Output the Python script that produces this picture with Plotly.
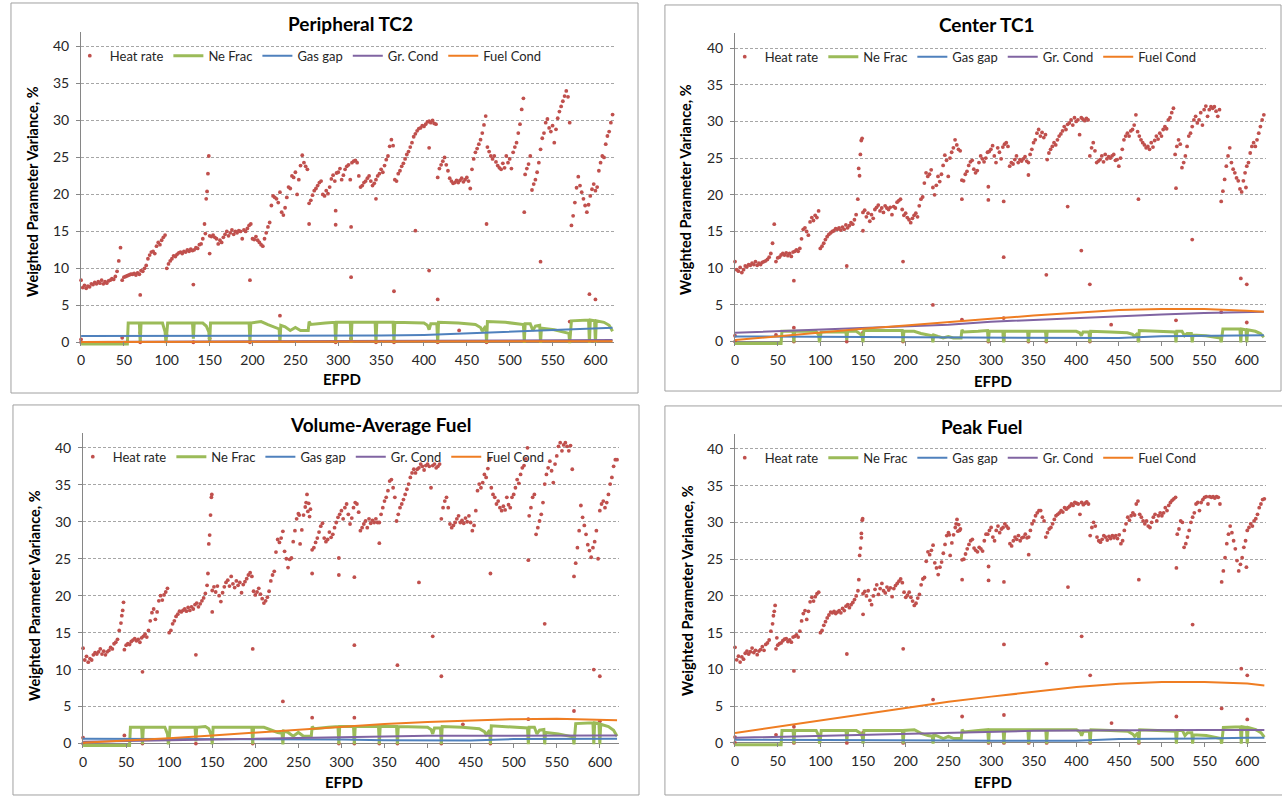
import plotly.graph_objects as go

W, H = 1282, 796
FONT = "Lato"
RED, GREEN, BLUE, PURPLE, ORANGE = "#C0504D", "#9BBB59", "#4F81BD", "#8064A2", "#EF7D22"

# ---------------- data ----------------
EFPD_STEP = 2  # heat-rate samples every 2 EFPD starting at 0

hr_tc2 = [
    8.4, 7.4, 7.7, 7.3, 7.6, 7.5, 7.9, 7.8, 8.1, 7.9,
    8.2, 8.0, 8.4, 7.9, 8.2, 8.0, 8.3, 8.4, 8.6, 8.5,
    8.9, 9.6, 11.0, 12.8, 8.4, 8.8, 8.9, 9.0, 9.1, 9.2,
    9.2, 9.3, 9.1, 9.4, 9.2, 9.7, 9.6, 10.0, 10.4, 11.3,
    11.8, 12.2, 12.3, 12.0, 13.0, 13.5, 13.2, 13.8, 14.2, 14.5,
    10.0, 10.6, 11.0, 11.3, 11.7, 11.6, 11.9, 12.1, 12.2, 12.0,
    12.3, 12.2, 12.5, 12.3, 12.6, 12.4, 12.5, 12.8, 12.7, 13.2,
    13.3, 14.0, 16.0, 19.4, 22.8, 14.4, 14.3, 14.5, 14.2, 14.0,
    13.3, 13.8, 13.5, 14.2, 14.6, 15.0, 14.4, 14.8, 15.2, 14.6,
    15.0, 14.8, 15.1, 15.0, 14.0, 15.2, 15.0, 15.4, 15.8, 16.0,
    14.0, 13.9, 14.3, 13.8, 13.5, 13.2, 13.0, 14.0, 14.8, 15.6,
    16.2, 18.5, 19.8, 19.6, 19.4, 18.9, 20.3, 17.6, 17.2, 18.2,
    19.6, 21.0, 20.8, 22.5, 22.3, 23.0, 20.0, 22.0, 23.9, 25.3,
    24.3, 23.8, 23.4, 18.8, 19.2, 19.9, 20.5, 20.8, 21.2, 21.6,
    21.8, 20.0, 19.8, 20.5, 20.1, 21.0, 22.1, 22.6, 21.8, 22.9,
    23.0, 23.5, 22.0, 22.6, 23.4, 23.8, 24.0, 22.0, 24.3, 24.5,
    24.6, 24.3, 22.5, 21.0, 21.2, 21.6, 21.8, 22.2, 22.5, 21.8,
    21.2, 21.5, 22.0, 22.5, 22.8, 23.4, 23.0, 23.9, 24.7, 25.2,
    26.5, 27.4, 26.6, 22.0, 21.8, 22.8, 23.2, 23.8, 24.2, 24.8,
    25.4, 25.8, 26.4, 27.0, 27.8, 28.2, 28.6, 28.9, 29.0, 29.3,
    29.2, 29.5, 29.8, 29.9, 29.7, 30.0, 29.6, 29.5, 22.3, 23.5,
    24.0, 24.5, 25.0, 24.0, 23.2, 22.2, 21.8, 21.5, 21.6, 21.9,
    21.6, 21.9, 22.2, 21.7, 22.0, 22.3, 21.8, 20.8, 23.4, 24.8,
    25.7, 26.2, 26.8, 27.4, 28.3, 29.4, 30.6, 26.4, 25.8, 25.2,
    24.8, 25.2, 24.4, 23.9, 23.6, 23.4, 24.2, 23.6, 25.2, 24.3,
    24.8, 23.5, 25.7, 26.4, 27.0, 28.3, 29.5, 31.5, 33.0, 22.7,
    23.5, 24.1, 25.2, 20.6, 21.4, 22.0, 23.0, 24.3, 26.1, 27.6,
    28.3, 29.7, 30.2, 29.0, 28.5, 29.3, 27.0, 28.8, 30.3, 31.2,
    31.9, 32.6, 33.3, 34.0, 33.2, 29.7, 15.8, 17.1, 18.9, 20.9,
    22.4, 21.2, 20.3, 19.4, 18.5, 17.6, 18.6, 19.8, 20.7, 21.4,
    20.5, 21.0, 23.2, 24.3, 25.2, 25.0, 26.8, 27.9, 28.5, 29.7, 30.8,
]
hr_tc1 = [
    10.9, 9.8, 9.6, 10.1, 9.4, 9.8, 10.3, 10.2, 10.5, 10.4,
    10.7, 10.5, 10.9, 10.4, 10.7, 10.5, 10.8, 10.9, 11.0, 11.2,
    11.5, 12.0, 13.4, 16.0, 10.9, 11.4, 11.5, 11.8, 12.0, 11.8,
    12.1, 11.7, 12.0, 11.6, 12.2, 12.3, 12.5, 12.3, 12.7, 14.0,
    15.3, 15.5, 15.0, 14.5, 16.3, 16.9, 16.5, 17.2, 16.9, 17.8,
    12.7, 13.0, 13.4, 13.9, 14.3, 14.6, 14.8, 15.0, 15.1, 15.4,
    15.3, 15.5, 15.2, 15.6, 15.3, 15.9, 15.5, 15.8, 16.2, 16.0,
    16.6, 17.3, 19.4, 22.6, 27.4, 17.6, 17.9, 17.0, 17.5, 16.4,
    17.3, 16.8, 18.0, 18.3, 18.6, 17.8, 18.2, 17.6, 18.5, 18.2,
    18.0, 18.3, 17.3, 18.4, 18.2, 19.0, 19.2, 19.4, 18.0, 17.2,
    17.5, 16.9, 16.6, 16.2, 16.8, 17.2, 17.5, 17.0, 18.5, 19.4,
    19.7, 21.6, 23.0, 22.5, 22.8, 23.4, 21.0, 20.0, 21.3, 22.5,
    21.8, 22.8, 24.0, 25.4, 24.7, 22.5, 25.0, 25.8, 26.4, 27.5,
    26.8, 26.2, 26.0, 22.0, 21.9, 22.8, 23.2, 24.0, 24.5, 24.7,
    23.5, 23.0, 23.3, 24.4, 25.3, 24.9, 24.5, 25.0, 25.8, 25.9,
    26.2, 26.7, 25.3, 24.4, 26.4, 25.8, 24.9, 26.5, 26.9, 27.1,
    26.6, 23.9, 24.4, 24.2, 24.8, 25.3, 24.4, 24.8, 24.6, 24.9,
    25.2, 24.6, 24.4, 25.5, 26.2, 27.1, 27.5, 28.4, 28.9, 28.0,
    28.5, 27.8, 28.2, 24.8, 25.7, 26.2, 26.6, 27.1, 26.8, 27.5,
    28.0, 28.3, 28.7, 29.3, 28.9, 29.6, 29.8, 30.2, 29.5, 30.5,
    30.0, 30.2, 28.2, 30.5, 30.3, 30.1, 30.4, 30.2, 25.3, 26.4,
    27.1, 26.0, 24.4, 24.6, 24.8, 25.3, 24.5, 25.5, 24.9, 25.2,
    25.0, 25.3, 25.5, 24.7, 24.8, 23.9, 25.0, 26.2, 27.5, 28.0,
    28.4, 28.0, 28.7, 28.9, 29.5, 30.9, 28.6, 28.0, 27.5, 27.1,
    26.8, 26.4, 26.6, 26.2, 27.1, 26.5, 27.4, 28.0, 27.6, 28.4,
    28.0, 28.9, 29.3, 29.0, 30.2, 30.5, 31.2, 31.8, 25.5, 26.6,
    27.5, 26.9, 23.7, 24.4, 25.3, 26.6, 28.0, 28.4, 29.3, 30.2,
    30.7, 29.8, 30.2, 31.2, 29.5, 31.6, 32.1, 30.7, 31.6, 32.0,
    31.8, 32.0, 31.4, 30.7, 31.6, 19.1, 20.5, 22.1, 23.9, 25.3,
    26.4, 24.4, 23.5, 23.0, 22.3, 21.9, 20.8, 20.4, 21.9, 23.0,
    23.9, 24.4, 25.7, 26.6, 27.1, 26.6, 27.5, 28.4, 29.3, 30.2, 30.9,
]
hr_vol = [
    12.9, 11.3, 11.8, 11.0, 11.5, 11.3, 12.0, 12.3, 12.1, 12.4,
    12.8, 12.1, 12.5, 12.0, 12.4, 12.6, 13.0, 12.8, 13.5, 13.7,
    14.1, 15.3, 16.3, 18.0, 12.7, 13.3, 13.5, 13.4, 13.8, 14.0,
    14.2, 13.9, 14.1, 13.7, 14.3, 14.5, 14.8, 14.4, 15.3, 16.6,
    17.7, 18.2, 16.8, 17.8, 19.3, 20.0, 19.4, 20.1, 20.5, 21.0,
    15.0, 15.3, 16.2, 16.6, 17.2, 17.5, 17.9, 17.8, 18.0, 18.2,
    17.9, 18.4, 18.0, 18.5, 18.2, 18.8, 19.0, 18.5, 18.9, 19.3,
    19.7, 20.3, 21.4, 27.0, 30.9, 20.7, 21.2, 20.5, 21.3, 20.0,
    19.2, 20.4, 21.2, 21.8, 22.1, 21.3, 22.6, 21.6, 21.1, 22.0,
    21.4, 21.8, 20.4, 21.5, 21.9, 22.3, 22.8, 23.1, 22.6, 20.6,
    20.1, 20.5, 21.0, 20.2, 19.6, 19.0, 19.3, 19.8, 20.6, 22.0,
    22.8, 23.3, 25.9, 27.6, 27.2, 27.8, 28.7, 26.0, 25.0, 23.8,
    24.9, 25.1, 27.3, 28.8, 30.4, 31.1, 27.0, 28.9, 30.9, 32.0,
    33.7, 32.5, 31.7, 26.2, 26.5, 27.2, 27.8, 28.6, 29.4, 29.8,
    27.8, 27.3, 27.6, 28.6, 27.9, 28.3, 29.2, 29.9, 30.6, 31.0,
    31.5, 30.4, 31.9, 32.4, 31.0, 29.7, 30.5, 31.9, 32.6, 32.4,
    31.3, 28.8, 29.2, 29.7, 30.1, 29.2, 30.4, 29.8, 30.2, 29.9,
    30.4, 29.9, 29.9, 31.0, 31.9, 32.8, 33.3, 34.2, 35.5, 35.7,
    34.6, 33.3, 30.1, 31.0, 31.9, 32.4, 33.0, 33.7, 34.4, 35.1,
    36.0, 36.6, 37.1, 36.6, 37.1, 37.3, 37.8, 37.5, 37.0, 37.6,
    37.8, 37.5, 34.6, 37.6, 37.8, 37.3, 37.5, 37.8, 30.4, 31.9,
    32.8, 33.3, 31.9, 29.7, 29.2, 29.5, 29.9, 30.4, 30.8, 29.9,
    30.2, 29.8, 30.5, 30.0, 30.8, 29.9, 28.8, 29.5, 31.5, 34.2,
    35.1, 34.6, 35.3, 36.4, 36.0, 37.2, 38.4, 34.6, 33.7, 33.3,
    32.4, 32.8, 31.9, 31.5, 32.1, 31.6, 33.3, 32.3, 31.9, 33.3,
    33.7, 34.6, 35.7, 35.2, 36.4, 37.3, 37.6, 38.5, 40.0, 30.8,
    31.9, 33.3, 33.7, 28.3, 29.2, 30.1, 31.0, 32.6, 35.1, 36.4,
    37.3, 38.2, 36.9, 35.3, 37.8, 38.9, 40.2, 40.7, 39.6, 40.4,
    40.7, 40.2, 39.6, 40.3, 37.1, 22.6, 24.4, 26.5, 28.8, 32.2,
    30.6, 29.5, 28.3, 26.9, 26.1, 25.2, 26.5, 27.3, 28.8, 25.0,
    31.5, 32.4, 32.8, 31.9, 32.6, 33.7, 35.1, 36.0, 37.5, 38.4, 38.4,
]
hr_peak = [
    13.0, 11.3, 11.8, 11.0, 11.7, 11.4, 12.2, 12.5, 12.1, 12.4,
    12.9, 12.3, 12.6, 12.0, 12.5, 12.7, 13.1, 12.6, 13.4, 13.6,
    14.0, 15.2, 16.2, 17.9, 12.8, 13.3, 13.5, 13.6, 13.9, 14.1,
    14.2, 13.8, 14.0, 13.7, 14.4, 14.5, 14.7, 14.4, 15.2, 16.6,
    17.6, 18.0, 16.8, 17.9, 19.2, 19.8, 19.3, 19.9, 20.3, 20.5,
    15.0, 15.3, 16.0, 16.5, 17.0, 17.4, 17.8, 17.7, 17.9, 17.6,
    17.8, 18.0, 17.7, 18.3, 18.0, 18.6, 18.8, 18.4, 18.8, 19.1,
    19.5, 20.0, 20.7, 25.5, 28.5, 20.3, 20.6, 20.0, 20.7, 19.4,
    18.8, 20.0, 20.9, 21.5, 20.2, 21.0, 21.7, 20.7, 20.4, 21.2,
    20.8, 21.1, 19.9, 21.0, 21.4, 21.7, 22.0, 22.3, 21.8, 20.5,
    19.8, 20.1, 20.5, 19.8, 19.3, 18.7, 19.0, 19.7, 20.2, 21.5,
    22.3, 22.5, 24.7, 26.0, 25.6, 26.2, 26.9, 24.5, 23.8, 22.9,
    23.9, 24.6, 25.8, 27.0, 28.2, 28.6, 25.5, 27.2, 28.3, 29.3,
    30.4, 29.7, 29.1, 24.9, 25.0, 25.7, 26.4, 27.0, 27.5, 27.7,
    26.5, 26.2, 26.0, 26.6, 26.4, 26.1, 27.5, 28.4, 28.4, 28.9,
    29.3, 28.0, 27.5, 28.9, 29.5, 28.6, 29.1, 29.3, 29.8, 29.5,
    29.2, 27.1, 26.8, 27.5, 28.0, 27.7, 28.2, 27.5, 27.9, 28.0,
    28.4, 27.9, 28.0, 28.9, 29.8, 30.2, 30.9, 31.3, 31.6, 31.6,
    30.7, 30.2, 28.0, 28.6, 29.1, 29.3, 29.8, 30.4, 30.9, 31.1,
    31.3, 31.6, 31.4, 32.0, 31.8, 32.0, 32.2, 32.5, 32.3, 32.7,
    32.6, 32.5, 31.1, 32.7, 32.4, 32.6, 32.8, 32.5, 28.2, 29.3,
    30.0, 29.5, 28.0, 27.5, 27.3, 27.7, 28.2, 28.0, 27.6, 28.1,
    27.8, 28.2, 27.9, 28.2, 27.8, 28.3, 27.1, 27.5, 28.9, 29.8,
    30.7, 30.3, 30.9, 31.3, 31.0, 32.5, 32.9, 31.1, 30.7, 30.2,
    29.8, 30.2, 29.5, 29.3, 30.0, 30.7, 31.1, 30.2, 30.9, 31.3,
    30.9, 31.3, 32.0, 31.6, 32.3, 32.7, 33.0, 33.2, 33.4, 28.4,
    29.1, 30.2, 30.0, 26.6, 27.1, 28.0, 28.9, 30.0, 30.7, 31.3,
    32.5, 32.7, 31.6, 32.7, 33.1, 33.4, 33.5, 32.5, 33.5, 33.4,
    33.5, 33.3, 33.5, 33.4, 32.5, 21.9, 23.4, 25.2, 27.1, 28.4,
    29.5, 28.6, 27.5, 26.4, 24.8, 23.4, 24.3, 25.2, 26.6, 27.5,
    28.9, 29.3, 29.8, 29.5, 30.2, 30.5, 31.1, 32.0, 32.5, 33.1, 33.2,
]

# isolated heat-rate points (EFPD, %) : outage days and short spikes
out_tc2 = [(0, 0.4), (0, 0.0), (48, 0.6), (69, 6.4), (69, 1.3), (69, 0.0), (100, 0.9), (131, 7.8), (131, 0.0),
           (145, 14.7), (147, 20.4), (149, 25.2), (150, 12.0), (150, 0.5), (197, 8.4), (197, 0.0), (232, 3.6),
           (266, 16.0), (297, 17.8), (297, 15.9), (297, 0.0), (315, 15.6), (315, 8.8), (315, 2.1), (315, 0.5),
           (344, 19.4), (344, 0.0), (365, 6.9), (365, 0.0), (390, 15.1), (406, 9.7), (406, 26.3), (416, 5.8),
           (416, 0.0), (441, 1.6), (473, 16.0), (473, 0.0), (517, 17.6), (517, 2.1), (536, 10.9), (570, 2.8),
           (593, 6.5), (600, 5.8), (600, 1.9)]
out_tc1 = [(0, 0.8), (0, 0.0), (48, 0.9), (69, 8.3), (69, 1.9), (69, 0.0), (131, 10.3), (131, 0.0), (145, 23.6),
           (147, 25.5), (149, 27.7), (150, 15.1), (150, 1.2), (197, 10.9), (197, 0.0), (232, 5.0), (266, 19.4),
           (266, 3.0), (297, 21.1), (297, 19.3), (297, 0.0), (315, 19.1), (315, 11.5), (315, 3.2), (315, 0.8),
           (315, 0.2), (344, 22.7), (344, 0.0), (365, 9.1), (365, 0.0), (390, 18.4), (406, 12.4), (416, 7.8),
           (416, 0.0), (441, 2.3), (473, 19.4), (473, 0.2), (517, 20.9), (517, 2.9), (536, 13.9), (570, 4.0),
           (593, 8.6), (600, 7.8), (600, 2.6), (599, 21.0)]
out_vol = [(0, 0.8), (0, 0.0), (45, 17.3), (47, 19.1), (48, 1.1), (69, 9.7), (69, 2.0), (69, 0.0), (131, 12.0),
           (131, 0.0), (145, 23.0), (147, 28.2), (149, 33.3), (149.5, 33.7), (150, 17.8), (150, 1.2), (197, 12.8),
           (197, 0.0), (232, 5.7), (251, 30.9), (259, 32.6), (261, 31.4), (263, 30.7), (266, 23.0), (266, 3.5),
           (297, 25.1), (297, 22.8), (297, 0.0), (315, 22.5), (315, 13.3), (315, 3.5), (315, 0.8), (315, 0.0),
           (344, 27.1), (344, 0.0), (365, 10.6), (365, 0.0), (390, 21.8), (406, 14.5), (416, 9.1), (416, 0.0),
           (441, 2.6), (473, 23.0), (473, 0.0), (517, 24.8), (517, 3.3), (536, 16.2), (570, 4.4), (593, 10.0),
           (600, 9.1), (600, 3.0)]
out_peak = [(0, 0.8), (0, 0.0), (45, 17.3), (47, 18.7), (49, 14.3), (48, 1.1), (69, 9.8), (69, 2.2), (69, 0.0),
            (131, 12.1), (131, 0.0), (145, 22.2), (147, 26.5), (148, 27.9), (149, 30.3), (149.5, 30.5),
            (150, 17.5), (150, 1.4), (197, 12.8), (197, 0.0), (232, 5.9), (251, 28.3), (259, 29.8), (261, 28.8),
            (263, 28.9), (266, 22.2), (266, 3.6), (297, 24.0), (297, 22.1), (297, 0.0), (315, 21.9), (315, 13.4),
            (315, 3.8), (315, 0.0), (344, 25.6), (344, 0.0), (365, 10.8), (365, 0.0), (390, 21.2), (406, 14.5),
            (416, 9.2), (416, 0.0), (441, 2.7), (473, 22.2), (473, 0.0), (517, 23.8), (517, 3.6), (536, 16.1),
            (570, 4.7), (593, 10.1), (600, 9.2), (600, 3.2), (599, 23.9)]

# Ne Frac breakpoints (EFPD) shared by all panels
ne_x = [0, 54, 55, 68, 69, 70, 95, 98, 99, 100, 101, 130, 131, 132, 142, 146, 149, 150, 151, 196, 197, 198,
        210, 218, 226, 231, 232, 233, 238, 244, 250, 256, 262, 265, 266, 268, 285, 296, 297, 298, 314, 315, 316,
        343, 344, 345, 364, 365, 366, 400, 404, 406, 408, 415, 416, 417, 440, 460, 466, 468, 472, 473, 474,
        495, 516, 517, 518, 524, 527, 530, 535, 536, 537, 552, 569, 570, 572, 592, 593, 594, 599, 600, 601,
        610, 616, 620]
ne_tc2 = [-0.25, -0.25, 2.6, 2.6, -0.1, 2.6, 2.6, 1.4, -0.1, 0.9, 2.6, 2.6, 0.5, 2.6, 2.6, 2.2, 1.4, -0.1, 2.6,
          2.6, -0.1, 2.6, 2.8, 2.4, 2.0, 1.8, -0.1, 2.3, 2.1, 1.6, 2.0, 1.6, 1.6, 1.6, 2.8, 2.4, 2.6, 2.7, -0.1,
          2.7, 2.7, -0.1, 2.7, 2.7, -0.1, 2.7, 2.7, -0.1, 2.7, 2.6, 2.3, 1.7, 2.5, 2.5, -0.1, 2.7, 2.6, 2.4, 2.0,
          1.5, 2.2, -0.1, 2.8, 2.7, 2.4, -0.1, 2.5, 2.5, 1.6, 2.2, 2.3, -0.1, 1.9, 1.7, 1.2, -0.1, 2.9, 3.0, -0.1,
          3.0, 2.9, -0.1, 2.9, 2.7, 2.3, 1.5]
ne_tc1 = [-0.25, -0.25, 1.4, 1.4, -0.1, 1.4, 1.4, 0.9, -0.1, 0.6, 1.3, 1.3, 0.2, 1.4, 1.4, 1.1, 0.8, -0.1, 1.5,
          1.5, -0.1, 1.4, 1.4, 1.1, 0.9, 0.8, -0.1, 0.9, 0.7, 0.5, 0.7, 0.5, 0.5, 0.5, 1.6, 1.3, 1.4, 1.5, -0.1,
          1.4, 1.4, -0.1, 1.4, 1.4, -0.1, 1.4, 1.4, -0.1, 1.4, 1.4, 1.2, 0.8, 1.3, 1.3, -0.1, 1.4, 1.3, 1.2, 1.0,
          0.7, 1.1, -0.1, 1.5, 1.4, 1.3, -0.1, 1.4, 1.4, 0.8, 1.1, 1.1, -0.1, 0.9, 0.8, 0.5, -0.1, 1.7, 1.7, -0.1,
          1.7, 1.6, -0.1, 1.6, 1.4, 1.1, 0.6]
ne_vol = [-0.25, -0.25, 2.2, 2.2, -0.1, 2.2, 2.2, 1.3, -0.1, 0.6, 2.2, 2.2, 0.3, 2.2, 2.3, 2.0, 1.1, -0.1, 2.2,
          2.2, -0.1, 2.2, 2.2, 1.8, 1.5, 1.4, -0.1, 1.7, 1.5, 1.0, 1.5, 1.0, 1.0, 1.0, 2.3, 2.0, 2.2, 2.3, -0.1,
          2.3, 2.3, -0.1, 2.3, 2.3, -0.1, 2.3, 2.3, -0.1, 2.3, 2.2, 1.9, 1.3, 2.1, 2.1, -0.1, 2.3, 2.2, 2.0, 1.6,
          1.2, 1.8, -0.1, 2.4, 2.3, 2.1, -0.1, 2.2, 2.2, 1.3, 1.8, 1.9, -0.1, 1.5, 1.3, 0.9, -0.1, 2.7, 2.8, -0.1,
          2.8, 2.7, -0.1, 2.6, 2.3, 1.8, 1.0]
ne_peak = [-0.25, -0.25, 1.7, 1.7, -0.1, 1.7, 1.7, 1.0, -0.1, 0.5, 1.7, 1.7, 0.2, 1.7, 1.7, 1.4, 0.9, -0.1, 1.7,
           1.7, -0.1, 1.7, 1.8, 1.3, 1.0, 0.9, -0.1, 1.1, 0.9, 0.6, 0.9, 0.6, 0.6, 0.6, 1.8, 1.5, 1.7, 1.8, -0.1,
           1.8, 1.8, -0.1, 1.8, 1.8, -0.1, 1.8, 1.8, -0.1, 1.8, 1.8, 1.5, 1.0, 1.6, 1.6, -0.1, 1.8, 1.7, 1.6, 1.2,
           0.9, 1.4, -0.1, 1.8, 1.7, 1.6, -0.1, 1.7, 1.7, 1.0, 1.4, 1.4, -0.1, 1.1, 1.0, 0.6, -0.1, 2.1, 2.2, -0.1,
           2.2, 2.1, -0.1, 2.1, 1.8, 1.4, 0.8]

# conductivity / gap curves (EFPD grid shared by all panels)
cond_x = [0, 50, 100, 150, 200, 250, 300, 350, 400, 450, 500, 550, 600, 620]
gas_tc2 = [0.85, 0.85, 0.85, 0.85, 0.85, 0.85, 0.85, 0.9, 1.0, 1.2, 1.4, 1.6, 1.85, 1.95]
gr_tc2 = [0.05, 0.07, 0.1, 0.12, 0.15, 0.2, 0.22, 0.24, 0.25, 0.27, 0.28, 0.29, 0.3, 0.3]
fuel_tc2 = [0.05, 0.05, 0.05, 0.05, 0.06, 0.06, 0.06, 0.07, 0.07, 0.08, 0.08, 0.1, 0.15, 0.15]
gas_tc1 = [0.7, 0.68, 0.65, 0.63, 0.6, 0.57, 0.55, 0.55, 0.5, 0.47, 0.72, 0.8, 0.9, 0.85]
gr_tc1 = [1.2, 1.4, 1.6, 1.8, 2.0, 2.3, 2.7, 2.95, 3.3, 3.5, 3.7, 3.9, 4.0, 4.05]
fuel_tc1 = [0.2, 0.75, 1.25, 1.75, 2.2, 2.7, 3.1, 3.55, 3.95, 4.3, 4.45, 4.45, 4.2, 4.05]
gas_vol = [0.65, 0.64, 0.62, 0.6, 0.58, 0.56, 0.55, 0.45, 0.42, 0.42, 0.6, 0.62, 0.65, 0.65]
gr_vol = [0.25, 0.35, 0.45, 0.55, 0.7, 0.85, 0.95, 1.0, 1.05, 1.05, 1.1, 1.1, 1.1, 1.1]
fuel_vol = [0.1, 0.35, 0.7, 1.1, 1.5, 1.9, 2.3, 2.65, 2.9, 3.1, 3.3, 3.35, 3.15, 3.15]
gas_peak = [0.45, 0.45, 0.45, 0.42, 0.4, 0.35, 0.3, 0.3, 0.3, 0.55, 0.55, 0.6, 0.7, 0.7]
gr_peak = [0.7, 0.85, 1.0, 1.15, 1.3, 1.45, 1.6, 1.65, 1.7, 1.75, 1.75, 1.75, 1.75, 1.75]
fuel_peak = [1.35, 2.2, 3.05, 3.95, 4.8, 5.6, 6.3, 7.0, 7.6, 8.05, 8.3, 8.3, 8.1, 7.8]

titles = ["Peripheral TC2", "Center TC1", "Volume-Average Fuel", "Peak Fuel"]
y_ticks = [0, 5, 10, 15, 20, 25, 30, 35, 40]
x_ticks = [0, 50, 100, 150, 200, 250, 300, 350, 400, 450, 500, 550, 600]

# ---------------- layout geometry (pixels) ----------------
geo = [
    dict(l=77.3, r=612.2, y0=344.0, s=7.43, box=(7, 3, 636, 395), title=(348, 24), ytitle=(28, 192),
         xtitle=(339, 381), leg=(66, 56)),
    dict(l=733.3, r=1265.5, y0=343.3, s=7.375, box=(663, 5, 1281, 393), title=(986, 25), ytitle=(683, 190),
         xtitle=(992, 383), leg=(723, 57)),
    dict(l=79.3, r=616.7, y0=747.3, s=7.43, box=(9, 407, 637, 799), title=(378, 427), ytitle=(31, 598),
         xtitle=(341, 786), leg=(69, 459)),
    dict(l=733.3, r=1266.0, y0=746.7, s=7.39, box=(663, 408, 1283, 799), title=(981, 429), ytitle=(685, 593),
         xtitle=(992, 786), leg=(723, 460)),
]
YMIN, YMAX, XMAX = -0.55, 42.0, 622

panels = [
    (hr_tc2, out_tc2, ne_tc2, gas_tc2, gr_tc2, fuel_tc2),
    (hr_tc1, out_tc1, ne_tc1, gas_tc1, gr_tc1, fuel_tc1),
    (hr_vol, out_vol, ne_vol, gas_vol, gr_vol, fuel_vol),
    (hr_peak, out_peak, ne_peak, gas_peak, gr_peak, fuel_peak),
]

fig = go.Figure()
layout = dict(width=W, height=H, margin=dict(l=0, r=0, t=0, b=0), paper_bgcolor="white",
              plot_bgcolor="white", font=dict(family=FONT, size=13, color="#262626"))
annotations, shapes = [], []
tickfont = dict(family=FONT, size=14, color="#262626")

for i, ((hr, out, ne, gas, gr, fuel), g) in enumerate(zip(panels, geo)):
    n = "" if i == 0 else str(i + 1)
    xa, ya = "x" + n, "y" + n
    leg = "legend" + n
    top = g["y0"] - YMAX * g["s"]
    bot = g["y0"] - YMIN * g["s"]
    layout["xaxis" + n] = dict(domain=[g["l"] / W, g["r"] / W], anchor=ya, range=[0, XMAX],
                               tickvals=x_ticks, ticks="inside", ticklen=round(-YMIN * g["s"]),
                               tickcolor="#868686", showline=False, showgrid=False, zeroline=False,
                               tickfont=tickfont, ticklabelstandoff=4, fixedrange=True)
    layout["yaxis" + n] = dict(domain=[1 - bot / H, 1 - top / H], anchor=xa, range=[YMIN, YMAX],
                               tickvals=y_ticks, ticks="outside", ticklen=4, tickcolor="#868686",
                               showline=True, linecolor="#868686", linewidth=1,
                               showgrid=True, gridcolor="#A6A6A6", griddash="3px,2px", gridwidth=1,
                               zeroline=True, zerolinecolor="#868686", zerolinewidth=1,
                               tickfont=tickfont, ticklabelstandoff=4, fixedrange=True)
    layout[leg] = dict(orientation="h", x=g["leg"][0] / W, y=1 - g["leg"][1] / H, xanchor="left",
                       yanchor="middle", bgcolor="rgba(0,0,0,0)",
                       font=dict(family=FONT, size=13, color="#262626"),
                       itemwidth=30, tracegroupgap=0, traceorder="normal")

    hx = [k * EFPD_STEP for k in range(len(hr))] + [p[0] for p in out]
    hy = list(hr) + [p[1] for p in out]
    fig.add_trace(go.Scatter(x=hx, y=hy, mode="markers", name="Heat rate", xaxis=xa, yaxis=ya, legend=leg,
                             marker=dict(size=3.8, color=RED), cliponaxis=False))
    fig.add_trace(go.Scatter(x=ne_x, y=ne, mode="lines", name="Ne Frac", xaxis=xa, yaxis=ya, legend=leg,
                             line=dict(color=GREEN, width=3)))
    fig.add_trace(go.Scatter(x=cond_x, y=gas, mode="lines", name="Gas gap", xaxis=xa, yaxis=ya, legend=leg,
                             line=dict(color=BLUE, width=2)))
    fig.add_trace(go.Scatter(x=cond_x, y=gr, mode="lines", name="Gr. Cond", xaxis=xa, yaxis=ya, legend=leg,
                             line=dict(color=PURPLE, width=2)))
    fig.add_trace(go.Scatter(x=cond_x, y=fuel, mode="lines", name="Fuel Cond", xaxis=xa, yaxis=ya,
                             legend=leg, line=dict(color=ORANGE, width=2)))

    bx0, by0, bx1, by1 = g["box"]
    shapes.append(dict(type="rect", xref="paper", yref="paper", x0=bx0 / W, x1=bx1 / W,
                       y0=1 - by1 / H, y1=1 - by0 / H, line=dict(color="#A0A0A0", width=1), layer="below"))
    annotations.append(dict(text="<b>" + titles[i] + "</b>", x=g["title"][0] / W, y=1 - g["title"][1] / H,
                            xref="paper", yref="paper", showarrow=False, xanchor="center", yanchor="middle",
                            font=dict(family=FONT, size=19, color="#000000")))
    annotations.append(dict(text="<b>Weighted Parameter Variance, %</b>", x=g["ytitle"][0] / W,
                            y=1 - g["ytitle"][1] / H, xref="paper", yref="paper", showarrow=False,
                            textangle=-90, xanchor="center", yanchor="middle",
                            font=dict(family=FONT, size=14.5, color="#000000")))
    annotations.append(dict(text="<b>EFPD</b>", x=g["xtitle"][0] / W, y=1 - g["xtitle"][1] / H,
                            xref="paper", yref="paper", showarrow=False, xanchor="center", yanchor="middle",
                            font=dict(family=FONT, size=15, color="#000000")))

layout["annotations"] = annotations
layout["shapes"] = shapes
fig.update_layout(**layout)
fig.write_html("out.html")
